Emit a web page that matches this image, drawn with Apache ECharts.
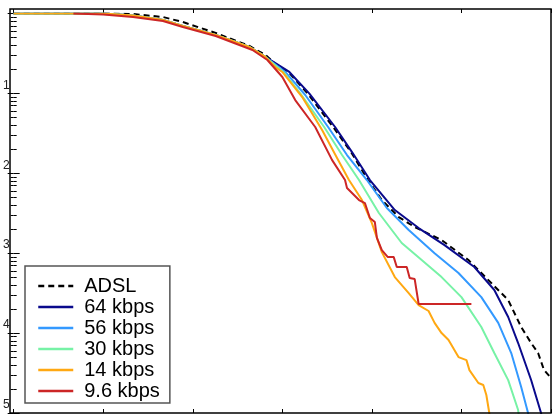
<!DOCTYPE html>
<html>
<head>
<meta charset="utf-8">
<script src="https://cdn.jsdelivr.net/npm/echarts@6/dist/echarts.min.js"></script>
<style>
html,body{margin:0;padding:0;background:#fff;}
#c{width:557px;height:417px;}
</style>
</head>
<body>
<div id="c"></div>
<script>
const seriesNames = ['ADSL', '64 kbps', '56 kbps', '30 kbps', '14 kbps', '9.6 kbps'];

const adsl = [[0,1],[0.667,1],[1.0,1],[1.333,0.983],[1.667,0.901],[1.889,0.78],[2.256,0.569],[2.633,0.391],[2.811,0.302],[2.922,0.233],[3.067,0.185],[3.278,0.101],[3.567,0.0379],[3.767,0.0184],[3.956,0.00822],[4.111,0.00462],[4.3,0.00283],[4.478,0.00212],[4.778,0.00146],[5.078,0.00082],[5.333,0.000423],[5.522,0.000259],[5.667,0.000119],[5.778,0.0000751],[5.856,0.0000564],[5.922,0.0000345],[6.0,0.0000274]];

const k64 = [[0,1],[0.667,1],[1.0,0.997],[1.333,0.941],[1.667,0.827],[1.889,0.695],[2.256,0.537],[2.633,0.38],[2.811,0.285],[3.078,0.185],[3.3,0.1],[3.589,0.0379],[3.778,0.0184],[3.978,0.00822],[4.256,0.00346],[4.522,0.00206],[4.811,0.00126],[5.144,0.000671],[5.367,0.000346],[5.522,0.000159],[5.633,0.0000751],[5.778,0.0000259],[5.889,0.00001],[5.9,0.0000086]];

const k56 = [[0,1],[0.667,1],[1.0,0.997],[1.333,0.941],[1.667,0.827],[1.889,0.695],[2.256,0.537],[2.633,0.38],[2.811,0.285],[3.033,0.185],[3.256,0.0953],[3.511,0.0379],[3.722,0.0169],[3.944,0.00822],[4.167,0.00367],[4.411,0.00195],[4.7,0.001],[4.967,0.000564],[5.222,0.000282],[5.411,0.000134],[5.556,0.0000562],[5.667,0.0000211],[5.744,0.00001],[5.756,0.0000086]];

const k30 = [[0,1],[0.667,1],[1.0,0.997],[1.333,0.941],[1.667,0.827],[1.889,0.695],[2.256,0.537],[2.633,0.38],[2.811,0.285],[3.011,0.185],[3.2,0.1],[3.467,0.0379],[3.667,0.0169],[3.856,0.00822],[4.078,0.00318],[4.333,0.00134],[4.556,0.00082],[4.778,0.000502],[5.0,0.000282],[5.222,0.000119],[5.367,0.0000564],[5.522,0.0000258],[5.633,0.0000109],[5.644,0.0000086]];

const k14 = [[0,1],[0.667,1],[1.0,0.997],[1.333,0.941],[1.667,0.827],[1.889,0.695],[2.256,0.537],[2.633,0.38],[2.811,0.285],[2.922,0.213],[3.0,0.185],[3.222,0.0899],[3.444,0.0347],[3.611,0.0155],[3.744,0.00822],[3.889,0.00462],[4.0,0.00238],[4.111,0.00103],[4.256,0.000502],[4.411,0.000317],[4.522,0.000224],[4.633,0.000189],[4.7,0.000134],[4.778,0.0001],[4.856,0.0000818],[4.967,0.0000501],[5.056,0.0000459],[5.089,0.0000344],[5.189,0.0000237],[5.244,0.0000224],[5.278,0.0000168],[5.311,0.00001],[5.322,0.0000086]];

const k96 = [[0.667,0.997],[1.0,0.969],[1.333,0.901],[1.667,0.803],[1.889,0.676],[2.256,0.521],[2.667,0.348],[2.833,0.261],[3.0,0.16],[3.144,0.0824],[3.367,0.0379],[3.556,0.0146],[3.7,0.00822],[3.722,0.00653],[3.778,0.00565],[3.856,0.00462],[3.922,0.00424],[3.978,0.00275],[4.033,0.00245],[4.056,0.00155],[4.111,0.00109],[4.178,0.000893],[4.244,0.000893],[4.278,0.00067],[4.389,0.00067],[4.422,0.000488],[4.478,0.000474],[4.522,0.000231],[5.111,0.000231]];

const seriesData = [adsl, k64, k56, k30, k14, k96];
const colors = ['#000000', '#0a0a8c', '#3399ff', '#77f2a6', '#ffa812', '#cc2626'];

const chart = echarts.init(document.getElementById('c'), null, {renderer: 'canvas'});

const yAxisBase = {
  type: 'log',
  min: 0.00001,
  max: 1,
  logBase: 10,
  axisLine: {show: false},
  splitLine: {show: false},
  axisTick: {show: true, inside: true, length: 6, lineStyle: {color: '#000', width: 1}},
  minorTick: {show: true, splitNumber: 9, length: 3, lineStyle: {color: '#000', width: 1}},
  minorSplitLine: {show: false}
};

const option = {
  backgroundColor: '#fff',
  animation: false,
  grid: {left: 10, right: 6, top: 13.4, bottom: 4, containLabel: false},
  xAxis: [
    {type: 'value', min: 0, max: 6, interval: 1, position: 'bottom',
     axisLine: {show: false}, splitLine: {show: false}, axisLabel: {show: false},
     axisTick: {show: true, inside: true, length: 4, lineStyle: {color: '#000'}}},
    {type: 'value', min: 0, max: 6, interval: 1, position: 'top', offset: 4.4,
     axisLine: {show: false}, splitLine: {show: false}, axisLabel: {show: false},
     axisTick: {show: true, inside: true, length: 4, lineStyle: {color: '#000'}}}
  ],
  yAxis: [
    Object.assign({}, yAxisBase, {
      position: 'left',
      axisLabel: {
        show: true, margin: 4, color: '#222', fontSize: 12,
        fontFamily: 'Liberation Sans, Arial, sans-serif',
        verticalAlign: 'bottom', align: 'right', padding: [0, 0, 2, 0],
        formatter: function (v) { return v >= 0.999 ? '' : String(Math.round(-Math.log10(v))); }
      }
    }),
    Object.assign({}, yAxisBase, {position: 'right', axisLabel: {show: false}})
  ],
  legend: {
    left: 25, top: 266, orient: 'vertical',
    itemWidth: 35, itemHeight: 14, itemGap: 1,
    padding: [10, 10, 2, 12],
    borderColor: '#555', borderWidth: 1.5, backgroundColor: '#fff',
    itemStyle: {opacity: 0},
    lineStyle: {width: 2.5},
    textStyle: {fontSize: 20, color: '#000', fontFamily: 'Liberation Sans, Arial, sans-serif', lineHeight: 18, padding: [0, 0, 0, 6]},
    data: seriesNames
  },
  graphic: [{
    type: 'rect', z: 100, silent: true,
    shape: {x: 10, y: 9, width: 541, height: 404},
    style: {fill: 'none', stroke: '#000', lineWidth: 1.5}
  }],
  series: seriesNames.map(function (name, i) {
    return {
      name: name, type: 'line', data: seriesData[i],
      xAxisIndex: 0, yAxisIndex: 0,
      symbol: 'none', showSymbol: false, smooth: false, clip: true,
      color: colors[i],
      lineStyle: {color: colors[i], width: 2, type: i === 0 ? [6, 4] : 'solid'},
      z: 2 + i
    };
  })
};
chart.setOption(option);
</script>
</body>
</html>
